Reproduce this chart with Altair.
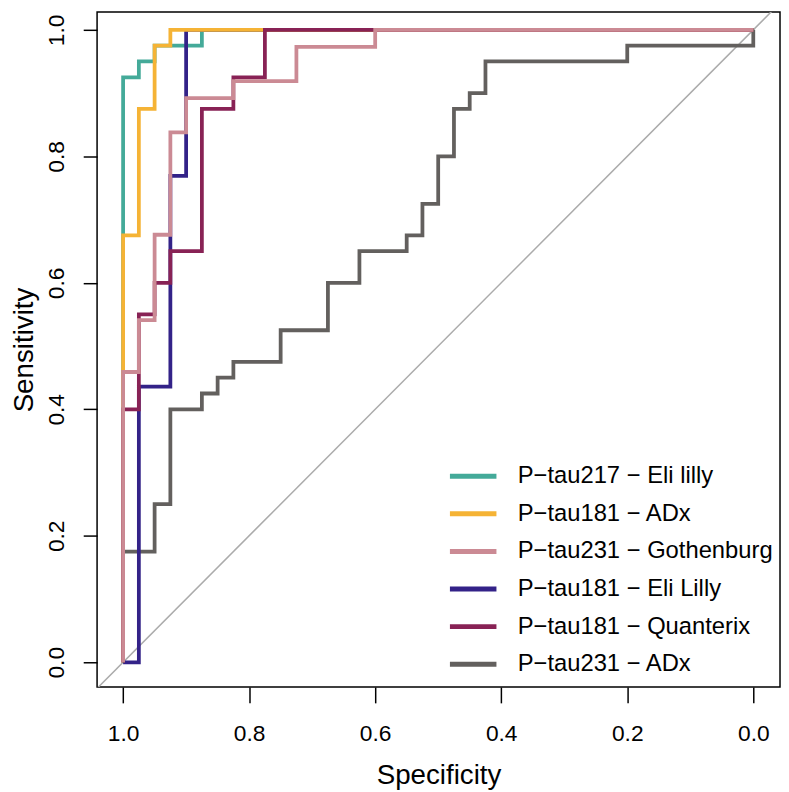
import altair as alt
import pandas as pd

# ---- data ----
series_names = [
    "P\u2212tau217 \u2212 Eli lilly",
    "P\u2212tau181 \u2212 ADx",
    "P\u2212tau231 \u2212 Gothenburg",
    "P\u2212tau181 \u2212 Eli Lilly",
    "P\u2212tau181 \u2212 Quanterix",
    "P\u2212tau231 \u2212 ADx",
]
series_colors = ["#44AA99", "#F5B335", "#CB8A94", "#332288", "#882255", "#63605E"]

teal_spec = [1, 1, 0.975, 0.975, 0.95, 0.95, 0.875, 0.875, 0]
teal_sens = [0, 0.925, 0.925, 0.95, 0.95, 0.975, 0.975, 1, 1]

yellow_spec = [1, 1, 0.975, 0.975, 0.95, 0.95, 0.925, 0.925, 0]
yellow_sens = [0, 0.675, 0.675, 0.875, 0.875, 0.975, 0.975, 1, 1]

pink_spec = [1, 1, 0.975, 0.975, 0.95, 0.95, 0.925, 0.925, 0.9, 0.9, 0.825, 0.825, 0.725, 0.725, 0.6, 0.6, 0]
pink_sens = [0, 0.459, 0.459, 0.541, 0.541, 0.676, 0.676, 0.838, 0.838, 0.892, 0.892, 0.919, 0.919, 0.973, 0.973, 1, 1]

blue_spec = [1, 0.975, 0.975, 0.925, 0.925, 0.9, 0.9, 0]
blue_sens = [0, 0, 0.436, 0.436, 0.769, 0.769, 1, 1]

maroon_spec = [1, 1, 0.975, 0.975, 0.95, 0.95, 0.925, 0.925, 0.875, 0.875, 0.825, 0.825, 0.775, 0.775, 0]
maroon_sens = [0, 0.4, 0.4, 0.55, 0.55, 0.6, 0.6, 0.65, 0.65, 0.875, 0.875, 0.925, 0.925, 1, 1]

gray_spec = [1, 1, 0.95, 0.95, 0.925, 0.925, 0.875, 0.875, 0.85, 0.85, 0.825, 0.825, 0.75, 0.75,
             0.675, 0.675, 0.625, 0.625, 0.55, 0.55, 0.525, 0.525, 0.5, 0.5, 0.475, 0.475,
             0.45, 0.45, 0.425, 0.425, 0.2, 0.2, 0, 0]
gray_sens = [0, 0.175, 0.175, 0.25, 0.25, 0.4, 0.4, 0.425, 0.425, 0.45, 0.45, 0.475, 0.475, 0.525,
             0.525, 0.6, 0.6, 0.65, 0.65, 0.675, 0.675, 0.725, 0.725, 0.8, 0.8, 0.875,
             0.875, 0.9, 0.9, 0.95, 0.95, 0.975, 0.975, 1]

diag_spec = [1.1, -0.1]
diag_sens = [-0.1, 1.1]

tick_values = [0.0, 0.2, 0.4, 0.6, 0.8, 1.0]

# drawing order (bottom to top)
draw_order = [
    (series_names[5], gray_spec, gray_sens),
    (series_names[0], teal_spec, teal_sens),
    (series_names[3], blue_spec, blue_sens),
    (series_names[1], yellow_spec, yellow_sens),
    (series_names[4], maroon_spec, maroon_sens),
    (series_names[2], pink_spec, pink_sens),
]
rows = []
for name, sp, se in draw_order:
    for i, (a, b) in enumerate(zip(sp, se)):
        rows.append({"series": name, "spec": a, "sens": b, "i": i})
df = pd.DataFrame(rows)
diag_df = pd.DataFrame({"spec": diag_spec, "sens": diag_sens})

FONT = "Liberation Sans"

xscale = alt.Scale(domain=[-0.0424, 1.0413], reverse=True, nice=False, zero=False)
yscale = alt.Scale(domain=[-0.0391, 1.0282], nice=False, zero=False)

xaxis = alt.Axis(values=tick_values, format=".1f", title="Specificity", domain=False, grid=False,
                 tickSize=16, tickWidth=1.5, tickColor="black", labelFontSize=23, labelFont=FONT,
                 labelColor="black", labelPadding=20, labelFlush=False, titleFontSize=28,
                 titleFont=FONT, titleFontWeight="normal", titleColor="black", titlePadding=16)
yaxis = alt.Axis(values=tick_values, format=".1f", title="Sensitivity", domain=False, grid=False,
                 tickSize=14, tickWidth=1.5, tickColor="black", labelFontSize=23, labelFont=FONT,
                 labelColor="black", labelAngle=270, labelAlign="center", labelBaseline="bottom",
                 labelPadding=15, labelFlush=False, titleFontSize=28, titleFont=FONT,
                 titleFontWeight="normal", titleColor="black", titlePadding=7)

diag = alt.Chart(diag_df).mark_line(color="#ABABAB", strokeWidth=1.5, clip=True).encode(
    x=alt.X("spec:Q", scale=xscale, axis=xaxis),
    y=alt.Y("sens:Q", scale=yscale, axis=yaxis),
)

curves = alt.Chart(df).mark_line(strokeWidth=3.8, clip=True).encode(
    x=alt.X("spec:Q", scale=xscale, axis=xaxis),
    y=alt.Y("sens:Q", scale=yscale, axis=yaxis),
    color=alt.Color(
        "series:N",
        scale=alt.Scale(domain=series_names, range=series_colors),
        legend=alt.Legend(title=None, orient="none", legendX=354, legendY=443,
                          symbolType="stroke", symbolSize=2209, symbolStrokeWidth=5,
                          labelFontSize=24, labelFont=FONT, labelColor="black",
                          labelOffset=19, rowPadding=-2, padding=0, labelLimit=0),
    ),
    order=alt.Order("i:Q"),
)

chart = alt.layer(diag, curves).properties(
    width=690,
    height=682,
    autosize=alt.AutoSizeParams(type="none"),
    padding={"left": 90, "top": 0, "right": 1, "bottom": 100},
).configure_view(stroke="black", strokeWidth=1.5)

chart.save("out.html", embed_options={"renderer": "svg", "actions": False})
